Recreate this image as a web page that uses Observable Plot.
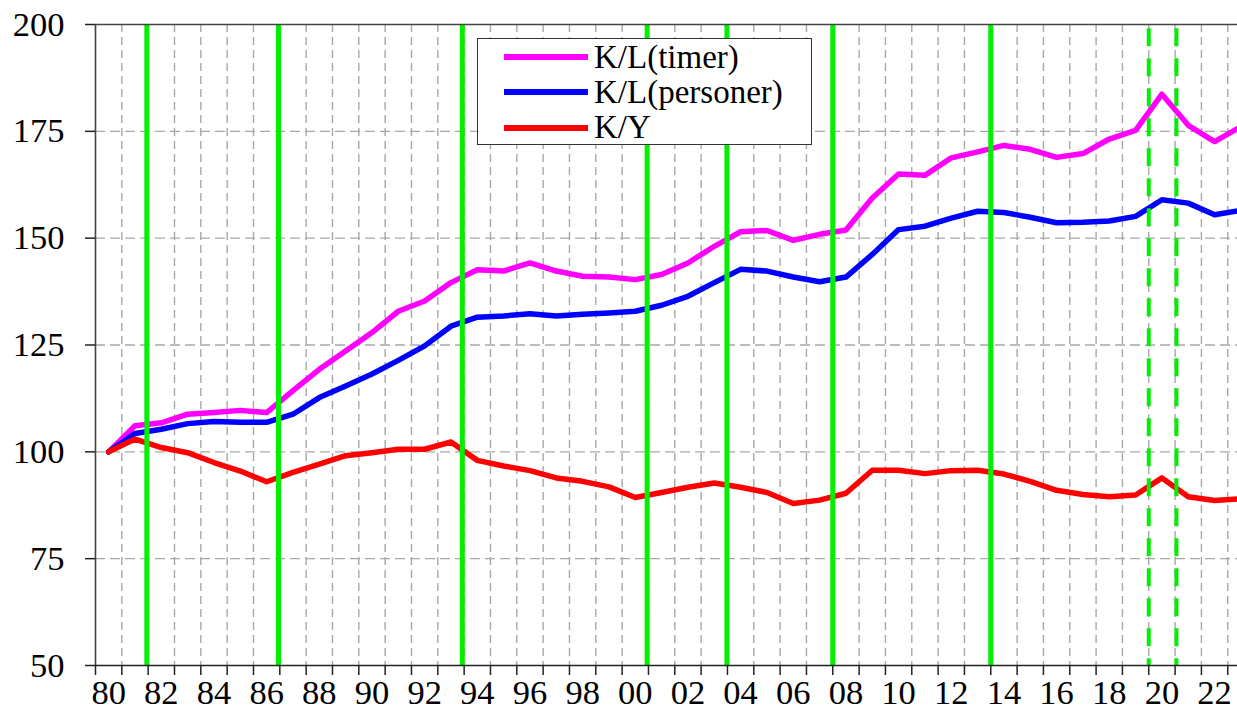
<!DOCTYPE html>
<html>
<head>
<meta charset="utf-8">
<script src="https://cdn.jsdelivr.net/npm/d3@7"></script>
<script src="https://cdn.jsdelivr.net/npm/@observablehq/plot@0.6"></script>
<style>
  html, body { margin: 0; padding: 0; background: #fff; }
  #wrap { position: relative; width: 1237px; height: 710px; overflow: hidden; }
  #legend { position: absolute; left: 477px; top: 38px; width: 335px; height: 107px; box-sizing: border-box;
    border: 1.6px solid #333; background: #fff; font-family: "Liberation Serif", "DejaVu Serif", "Times New Roman", Times, serif; }
  .entry { position: absolute; left: 0; height: 35.3px; width: 100%; }
  .swatch { position: absolute; left: 26px; width: 84px; height: 6px; top: 14.6px; }
  .lab { position: absolute; left: 116px; top: 0; font-size: 33px; line-height: 35.3px; color: #000; white-space: nowrap; }
</style>
</head>
<body>
<div id="wrap"><div id="chart"></div><div id="legend"></div></div>
<script>
// ---- data ----
const years = [1980,1981,1982,1983,1984,1985,1986,1987,1988,1989,1990,1991,1992,1993,1994,1995,1996,1997,1998,1999,
  2000,2001,2002,2003,2004,2005,2006,2007,2008,2009,2010,2011,2012,2013,2014,2015,2016,2017,2018,2019,2020,2021,2022,2023];
const klTimer = [100,106.1,106.8,108.8,109.2,109.7,109.2,114.3,119.3,123.6,127.9,132.9,135.3,139.6,142.6,142.3,144.2,142.3,141.1,140.9,
  140.3,141.5,144.2,148.1,151.5,151.8,149.5,150.9,151.9,159.4,165.0,164.7,168.8,170.2,171.7,170.8,168.9,169.8,173.2,175.2,183.7,176.4,172.6,176.1];
const klPersoner = [100,104.3,105.3,106.6,107.1,106.9,106.9,108.8,112.7,115.4,118.2,121.4,124.8,129.4,131.5,131.8,132.3,131.8,132.2,132.5,
  132.9,134.3,136.4,139.6,142.7,142.3,140.9,139.8,140.9,146.2,152.0,152.8,154.7,156.3,156.0,154.9,153.6,153.7,154.0,155.1,159.0,158.2,155.5,156.5];
const ky = [100,103.0,101.0,99.8,97.5,95.5,93.0,95.2,97.1,99.1,99.8,100.6,100.6,102.3,98.0,96.7,95.6,93.9,93.1,91.8,
  89.3,90.5,91.7,92.7,91.7,90.5,87.9,88.7,90.3,95.7,95.7,94.9,95.6,95.7,94.8,93.1,91.0,90.0,89.5,89.9,93.9,89.5,88.6,89.0];
const seriesNames = ["K/L(timer)", "K/L(personer)", "K/Y"];
const seriesColors = ["#ff00ff", "#0000ff", "#ff0000"];
const seriesValues = [klTimer, klPersoner, ky];
const eventsSolid = [1981.95, 1986.95, 1993.93, 2000.95, 2003.98, 2008.0, 2014.0];
const eventsDashed = [2020.0, 2021.05];
const yTicks = [50, 75, 100, 125, 150, 175, 200];
const yGrid = [75, 100, 125, 150, 175];
const xTickYears = d3.range(1980, 2024);
const xLabelYears = d3.range(1980, 2023, 2);

const rows = [];
seriesNames.forEach((name, i) => years.forEach((yr, j) => rows.push({series: name, year: yr, value: seriesValues[i][j]})));

const serif = "'Liberation Serif', 'DejaVu Serif', 'Times New Roman', Times, serif";
const chart = Plot.plot({
  width: 1237, height: 710,
  marginLeft: 95, marginRight: 0, marginTop: 24, marginBottom: 45,
  x: {domain: [1980, 2023.37]},
  y: {domain: [50, 200]},
  color: {domain: seriesNames, range: seriesColors},
  style: {fontFamily: serif, fontSize: "34px", color: "#000", background: "#fff", overflow: "visible"},
  marks: [
    Plot.ruleX(xTickYears.slice(1), {stroke: "#a8a8a8", strokeWidth: 1.4, strokeDasharray: "8,5"}),
    Plot.ruleY(yGrid, {stroke: "#a8a8a8", strokeWidth: 1.4, strokeDasharray: "10,5"}),
    Plot.line(rows, {x: d => d.year + 0.5, y: "value", z: "series", stroke: "series", strokeWidth: 5.5,
      strokeLinejoin: "round", strokeLinecap: "round", clip: true}),
    Plot.ruleX(eventsSolid, {stroke: "#00f000", strokeWidth: 5}),
    Plot.ruleX(eventsDashed, {y1: 199, y2: 50, stroke: "#00f000", strokeWidth: 4, strokeDasharray: "18,12"}),
    Plot.ruleX([1980], {stroke: "#444", strokeWidth: 1.6}),
    Plot.ruleY([50], {stroke: "#222", strokeWidth: 1.6}),
    Plot.ruleY([200], {stroke: "#444", strokeWidth: 1.6}),
    Plot.axisY(yTicks, {tickSize: 10, tickPadding: 21, fontSize: 34.5, fontFamily: serif, stroke: "#222", strokeWidth: 1.5, label: null}),
    Plot.axisX(xTickYears, {tickSize: 10, tickFormat: () => "", stroke: "#222", strokeWidth: 1.5, label: null}),
    Plot.axisX(xLabelYears.map(y => y + 0.5), {tickSize: 0, tickPadding: 14, fontSize: 34.5, fontFamily: serif, label: null,
      tickFormat: d => String(Math.floor(d) % 100).padStart(2, "0")})
  ]
});
document.getElementById("chart").appendChild(chart);

const legend = document.getElementById("legend");
seriesNames.forEach((name, i) => {
  const e = document.createElement("div");
  e.className = "entry";
  e.style.top = (0.6 + i * 35.3) + "px";
  const sw = document.createElement("div");
  sw.className = "swatch";
  sw.style.background = seriesColors[i];
  const lb = document.createElement("div");
  lb.className = "lab";
  lb.textContent = name;
  e.appendChild(sw); e.appendChild(lb);
  legend.appendChild(e);
});
</script>
</body>
</html>
